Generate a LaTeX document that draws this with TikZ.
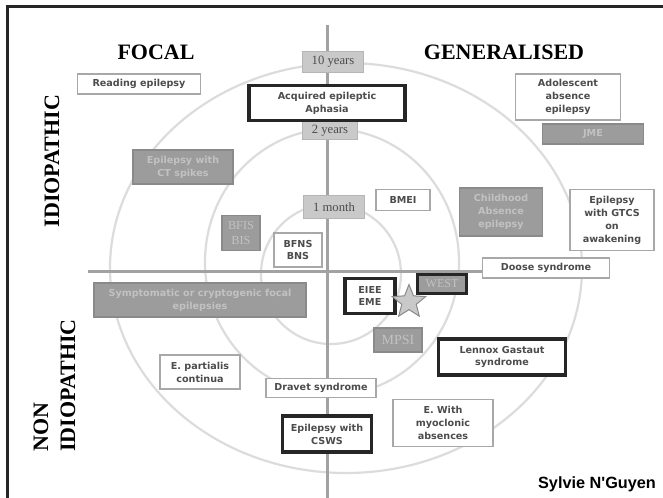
\documentclass[tikz,border=0pt]{standalone}
\usepackage{fontspec}
\setmainfont{Liberation Serif}
\newfontfamily\boxfont{DejaVu Sans}
\newfontfamily\sigfont{Liberation Sans}
\usetikzlibrary{shapes.geometric}
\newdimen\pxu \pxu=0.75pt
\definecolor{darkfill}{HTML}{9C9C9C}
\definecolor{darkline}{HTML}{8A8A8A}
\definecolor{lightfill}{HTML}{C9C9C9}
\definecolor{lightline}{HTML}{B5B5B5}
\definecolor{boxline}{HTML}{A8A8A8}
\definecolor{txtdark}{HTML}{4C4C4C}
\definecolor{txtlight}{HTML}{C2C2C2}
\definecolor{circgray}{HTML}{DCDCDC}
\definecolor{axisgray}{HTML}{A2A2A2}
\definecolor{thickline}{HTML}{262626}
\begin{document}
\begin{tikzpicture}[x=0.75pt,y=-0.75pt,
  sansfont/.style={font=\boxfont\bfseries\fontsize{7.2}{9.7}\selectfont},
  wbox/.style={sansfont, draw=boxline, line width=1.5\pxu, fill=white, text=txtdark, align=center, inner sep=0pt},
  dbox/.style={sansfont, draw=darkline, line width=1.2\pxu, fill=darkfill, text=txtlight, align=center, inner sep=0pt},
  kbox/.style={sansfont, draw=thickline, line width=3.2\pxu, fill=white, text=txtdark, align=center, inner sep=0pt},
  tbox/.style={font=\fontsize{9.5}{11}\selectfont, draw=lightline, line width=1\pxu, fill=lightfill, text=txtdark, inner sep=0pt},
  sbox/.style={draw=darkline, line width=1.2\pxu, fill=darkfill, text=txtlight, align=center, inner sep=0pt},
  heading/.style={font=\bfseries\fontsize{16.5}{18}\selectfont, text=black, inner sep=0pt},
  circ/.style={draw=circgray, line width=2.2\pxu},
  axis/.style={draw=axisgray, line width=3\pxu}
]
\useasboundingbox (0,0) rectangle (663,498);
\fill[white] (0,0) rectangle (663,498);

% frame
\coordinate (fbl) at (7,500);
\coordinate (ftl) at (7,7);
\coordinate (ftr) at (665,7);
\draw[line width=3\pxu, black!85] (fbl) -- (ftl) -- (ftr);

% circles
\draw[circ] (331,274) circle [radius=70];
\draw[circ] (332,262) ellipse [x radius=127, y radius=133];
\draw[circ] (346,268) ellipse [x radius=236, y radius=205];

% headings
\node[heading] (focal) at (156,52) {FOCAL};
\node[heading] (gen) at (504,52) {GENERALISED};
\node[heading, rotate=90] (idio) at (52,161) {IDIOPATHIC};
\node[heading, rotate=90, anchor=west] (non) at (41,452) {NON};
\node[heading, rotate=90, anchor=west] (nonidio) at (68,452) {IDIOPATHIC};

% Doose box (the horizontal axis ends at it)
\node[wbox, minimum width=127\pxu, minimum height=20\pxu] (doose) at (546,268) {Doose syndrome};

% axes
\coordinate (vtop) at (327,25);
\coordinate (vbot) at (327,500);
\coordinate (hleft) at (88,272);
\draw[axis] (vtop) -- (vbot);
\draw[axis] (hleft) -- (hleft -| doose.west);

% time labels
\node[tbox, minimum width=61\pxu, minimum height=21\pxu] (y10) at (333,62) {10 years};
\node[tbox, minimum width=55\pxu, minimum height=18\pxu] (y2) at (330,131) {2 years};
\node[tbox, minimum width=61\pxu, minimum height=23\pxu] (m1) at (334,207) {1 month};

% idiopathic focal
\node[wbox, minimum width=123\pxu, minimum height=20\pxu] (reading) at (139,84) {Reading epilepsy};
\node[kbox, minimum width=156\pxu, minimum height=35\pxu] (acq) at (327,103) {Acquired epileptic\\Aphasia};
\node[dbox, minimum width=100\pxu, minimum height=34\pxu] (ct) at (183,167) {Epilepsy with\\CT spikes};
\node[sbox, font=\fontsize{9.2}{11.5}\selectfont, minimum width=38\pxu, minimum height=35\pxu] (bfis) at (241,233) {BFIS\\BIS};
\node[wbox, minimum width=48\pxu, minimum height=34\pxu] (bfns) at (298,250) {BFNS\\BNS};

% idiopathic generalised
\node[wbox, minimum width=105\pxu, minimum height=46\pxu] (adol) at (568,97) {Adolescent\\absence\\epilepsy};
\node[dbox, minimum width=101\pxu, minimum height=20\pxu] (jme) at (593,134) {JME};
\node[wbox, minimum width=54\pxu, minimum height=21\pxu] (bmei) at (403,200) {BMEI};
\node[dbox, minimum width=83\pxu, minimum height=48\pxu] (cae) at (501,212) {Childhood\\Absence\\epilepsy};
\node[wbox, minimum width=84\pxu, minimum height=61\pxu] (gtcs) at (612,220) {Epilepsy\\with GTCS\\on\\awakening};

% non idiopathic
\node[dbox, minimum width=212\pxu, minimum height=34\pxu] (sympt) at (200,300) {Symptomatic or cryptogenic focal\\epilepsies};
\node[kbox, minimum width=50\pxu, minimum height=35\pxu] (eiee) at (370,296) {EIEE\\EME};
\node[sbox, draw=thickline, line width=3.2\pxu, font=\fontsize{9}{11}\selectfont, minimum width=49\pxu, minimum height=19\pxu] (west) at (442,284) {WEST};
\node[star, star points=5, star point ratio=2.3, minimum size=35\pxu, inner sep=0pt, fill=lightfill, draw=darkline, line width=1\pxu] (star) at (409,302) {};
\node[sbox, font=\fontsize{10.5}{12}\selectfont, minimum width=48\pxu, minimum height=24\pxu] (mpsi) at (398,340) {MPSI};
\node[kbox, minimum width=127\pxu, minimum height=36\pxu] (lgs) at (502,357) {Lennox Gastaut\\syndrome};
\node[wbox, minimum width=80\pxu, minimum height=34\pxu] (epc) at (200,372) {E. partialis\\continua};
\node[wbox, minimum width=110\pxu, minimum height=19\pxu] (dravet) at (321,388) {Dravet syndrome};
\node[kbox, minimum width=89\pxu, minimum height=36\pxu] (csws) at (327,434) {Epilepsy with\\CSWS};
\node[wbox, minimum width=100\pxu, minimum height=47\pxu] (ema) at (443,423) {E. With\\myoclonic\\absences};

% signature
\node[font=\sigfont\bfseries\fontsize{12.2}{14}\selectfont, inner sep=0pt] (sig) at (597,484) {Sylvie N'Guyen};
\end{tikzpicture}
\end{document}
